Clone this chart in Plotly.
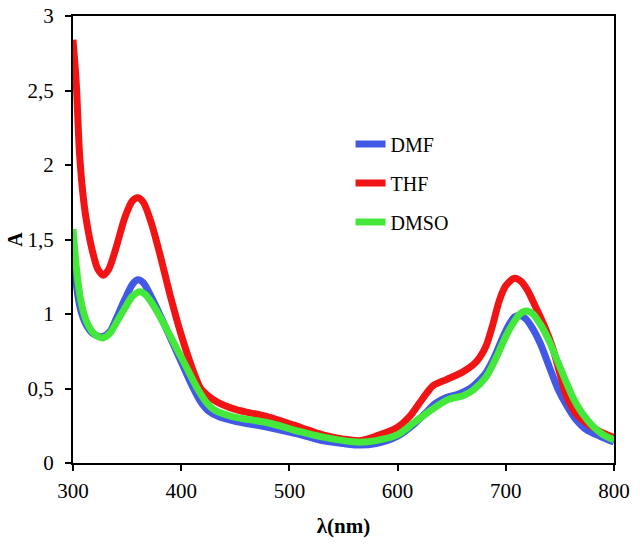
import plotly.graph_objects as go

# UV-vis absorption spectra in three solvents
# wavelength (nm) / absorbance A
wl_dmf = [300, 303, 307, 312, 318, 324, 328, 334, 340, 348, 355, 360, 365, 372, 380,
          390, 400, 410, 418, 425, 435, 450, 480, 510, 530, 550, 565, 580, 600, 615,
          625, 635, 645, 655, 667, 675, 682, 690, 697, 703, 708, 713, 718, 725, 732,
          740, 748, 756, 765, 775, 787, 800]
a_dmf = [1.43, 1.20, 1.03, 0.93, 0.87, 0.85, 0.85, 0.88, 0.97, 1.10, 1.20, 1.23, 1.21, 1.12, 1.00,
         0.84, 0.68, 0.52, 0.41, 0.35, 0.31, 0.28, 0.24, 0.19, 0.15, 0.13, 0.12, 0.13, 0.18, 0.26,
         0.33, 0.40, 0.44, 0.46, 0.50, 0.55, 0.61, 0.72, 0.84, 0.93, 0.98, 0.99, 0.97, 0.90, 0.80,
         0.65, 0.50, 0.39, 0.29, 0.22, 0.18, 0.14]

wl_thf = [300, 303, 306, 310, 313, 318, 323, 328, 333, 340, 348, 355, 360, 365, 372,
          380, 390, 400, 410, 418, 425, 433, 450, 480, 510, 530, 550, 565, 580, 600,
          612, 620, 627, 633, 645, 660, 670, 676, 682, 688, 694, 700, 708, 714, 720,
          728, 735, 743, 750, 756, 765, 774, 785, 800]
a_thf = [2.84, 2.55, 2.08, 1.75, 1.60, 1.42, 1.30, 1.26, 1.30, 1.45, 1.65, 1.76, 1.78, 1.75, 1.62,
         1.41, 1.12, 0.86, 0.64, 0.50, 0.45, 0.41, 0.36, 0.31, 0.24, 0.19, 0.16, 0.15, 0.18, 0.24,
         0.32, 0.40, 0.47, 0.52, 0.56, 0.61, 0.66, 0.71, 0.79, 0.93, 1.09, 1.19, 1.24, 1.22, 1.16,
         1.04, 0.93, 0.78, 0.60, 0.45, 0.33, 0.27, 0.22, 0.17]

wl_dmso = [300, 303, 307, 312, 318, 324, 328, 334, 340, 348, 355, 362, 367, 375, 385,
           395, 405, 415, 423, 432, 448, 480, 510, 530, 550, 565, 580, 600, 615, 630,
           640, 648, 660, 670, 682, 692, 700, 707, 713, 719, 725, 732, 740, 748, 756,
           762, 770, 780, 790, 800]
a_dmso = [1.57, 1.32, 1.10, 0.96, 0.88, 0.845, 0.84, 0.87, 0.94, 1.04, 1.12, 1.15, 1.13, 1.05, 0.92,
          0.78, 0.64, 0.50, 0.41, 0.35, 0.31, 0.27, 0.21, 0.175, 0.15, 0.14, 0.15, 0.19, 0.27, 0.35,
          0.40, 0.43, 0.45, 0.49, 0.58, 0.72, 0.85, 0.94, 1.00, 1.02, 1.00, 0.93, 0.82, 0.68, 0.54,
          0.44, 0.34, 0.25, 0.19, 0.155]

x_ticks = [300, 400, 500, 600, 700, 800]
y_ticks = [0, 0.5, 1, 1.5, 2, 2.5, 3]

FONT = "Liberation Serif, Times New Roman, serif"

fig = go.Figure()
for name, x, y, color in [("DMF", wl_dmf, a_dmf, "#4258e6"),
                          ("THF", wl_thf, a_thf, "#f01414"),
                          ("DMSO", wl_dmso, a_dmso, "#44e83a")]:
    fig.add_trace(go.Scatter(x=x, y=y, name=name, mode="lines", legendgroup=name,
                             line=dict(color=color, width=7, shape="spline", smoothing=0.8)))

axis_common = dict(showgrid=False, zeroline=False, showline=True, linecolor="black",
                   linewidth=2, mirror=True, ticks="outside", ticklen=6, tickwidth=2,
                   tickcolor="black", automargin=False,
                   tickfont=dict(family=FONT, size=21, color="black"))

fig.update_xaxes(range=[300, 800], tickvals=x_ticks, ticklabelstandoff=2, **axis_common,
                 title=dict(text="<b>λ(nm)</b>", font=dict(family=FONT, size=21, color="black"),
                            standoff=16))
fig.update_yaxes(range=[0, 3], tickvals=y_ticks, ticklabelstandoff=7, **axis_common,
                 title=dict(text="<b>A</b>", font=dict(family=FONT, size=20, color="black"),
                            standoff=0))

fig.update_layout(
    width=640, height=545,
    margin=dict(l=73, r=26, t=16, b=82),
    plot_bgcolor="white", paper_bgcolor="white",
    separators=", ",
    legend=dict(x=0.513, y=0.757, xanchor="left", yanchor="top",
                font=dict(family=FONT, size=20, color="black"),
                tracegroupgap=10, bgcolor="rgba(0,0,0,0)"),
)

# drop the browser's default body margin so the figure sits at the page origin
fig.write_html("out.html", config={"displayModeBar": False},
               post_script="document.body.style.margin = '0';")
